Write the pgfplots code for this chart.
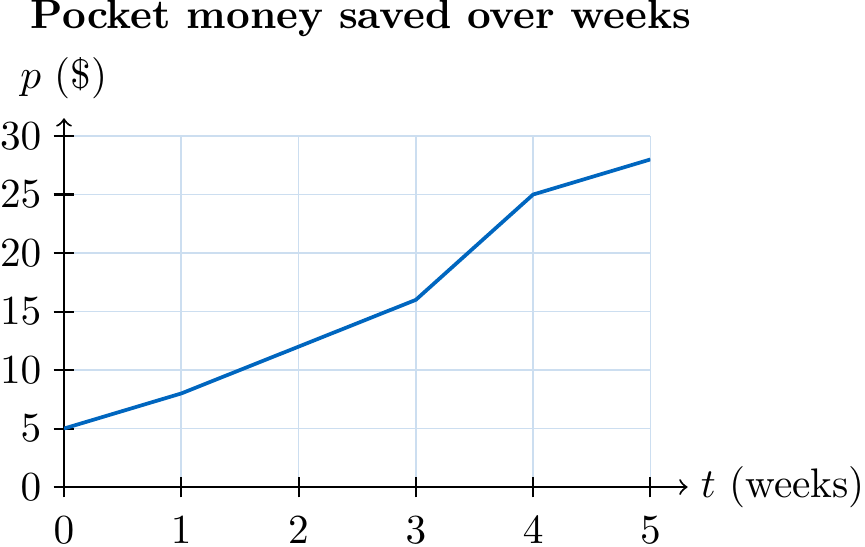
\documentclass[border=0pt]{standalone}
\usepackage{pgfplots}
\pgfplotsset{compat=1.18}
\definecolor{lineblue}{RGB}{0,102,191}
\definecolor{gridblue}{RGB}{204,222,240}
\begin{document}
\begin{tikzpicture}
\begin{axis}[
  width=142pt, height=85pt, scale only axis,
  axis lines=left,
  xmin=0, xmax=5, ymin=0, ymax=30,
  xtick={0,1,2,3,4,5}, ytick={0,5,10,15,20,25,30},
  tick align=center,
  major tick length=5pt,
  tick style={black, line width=0.5pt},
  grid=major,
  grid style={gridblue, line width=0.4pt},
  axis line style={line width=0.5pt},
  x axis line style={->, shorten >=-9pt},
  y axis line style={->, shorten >=-4.3pt},
  xticklabel style={inner sep=0pt, text depth=0.7pt, yshift=-4.6pt},
  yticklabel style={inner sep=0pt, xshift=-2.8pt},
  xlabel={$t$ (weeks)},
  ylabel={$p$ (\$)},
  xlabel style={at={(axis description cs:1,0)}, anchor=west, inner sep=0pt, xshift=12pt},
  ylabel style={at={(axis description cs:0,1)}, anchor=base, inner sep=0pt, rotate=-90, yshift=11.6pt},
  title={\textbf{Pocket money saved over weeks}},
  title style={at={(axis description cs:0,1)}, anchor=base west, inner sep=0pt, xshift=-8.2pt, yshift=20pt},
]
\addplot[lineblue, line width=0.9pt] coordinates {(0,5) (1,8) (2,12) (3,16) (4,25) (5,28)};
\end{axis}
\end{tikzpicture}
\end{document}
